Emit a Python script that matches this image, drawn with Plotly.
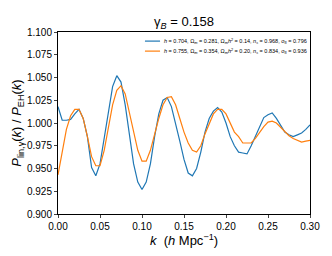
import plotly.graph_objects as go

k = [round(0.005 * i, 3) for i in range(61)]

blue = [1.018, 1.003, 1.003, 1.004, 1.010, 1.015, 1.005, 0.985, 0.951, 0.942,
        0.955, 0.985, 1.015, 1.040, 1.052, 1.045, 1.020, 0.985, 0.955, 0.935,
        0.927, 0.935, 0.955, 0.985, 1.010, 1.025, 1.028, 1.018, 1.000, 0.980,
        0.960, 0.945, 0.942, 0.950, 0.968, 0.990, 1.005, 1.013, 1.017, 1.012,
        1.000, 0.985, 0.975, 0.968, 0.967, 0.966, 0.975, 0.985, 0.995, 1.006,
        1.009, 1.011, 1.005, 0.998, 0.990, 0.987, 0.985, 0.987, 0.989, 0.993,
        0.998]

orange = [0.943, 0.970, 0.993, 1.008, 1.015, 1.015, 1.005, 0.985, 0.963, 0.953,
          0.953, 0.970, 0.995, 1.020, 1.036, 1.041, 1.032, 1.012, 0.990, 0.970,
          0.958, 0.958, 0.970, 0.988, 1.005, 1.020, 1.028, 1.029, 1.020, 1.005,
          0.990, 0.978, 0.970, 0.968, 0.975, 0.988, 1.000, 1.010, 1.015, 1.015,
          1.010, 1.000, 0.990, 0.985, 0.978, 0.978, 0.978, 0.983, 0.990, 0.996,
          1.001, 1.002, 1.000, 0.995, 0.990, 0.986, 0.983, 0.981, 0.979, 0.980,
          0.981]

names = [
    "<i>h</i> = 0.704, Ω<sub><i>m</i></sub> = 0.281, Ω<sub><i>m</i></sub><i>h</i><sup>2</sup> = 0.14, <i>n</i><sub><i>s</i></sub> = 0.968, σ<sub>8</sub> = 0.796",
    "<i>h</i> = 0.755, Ω<sub><i>m</i></sub> = 0.354, Ω<sub><i>m</i></sub><i>h</i><sup>2</sup> = 0.20, <i>n</i><sub><i>s</i></sub> = 0.834, σ<sub>8</sub> = 0.936",
]
colors = ["#1f77b4", "#ff7f0e"]

# legend layout (paper coordinates, styling only)
leg_rows = [0.95, 0.895]
leg_x0, leg_x1, leg_tx = 0.345, 0.405, 0.412

fig = go.Figure()
for ys, nm, c in zip([blue, orange], names, colors):
    fig.add_trace(go.Scatter(x=k, y=ys, mode="lines", name=nm,
                             line=dict(color=c, width=1.2), showlegend=False))

for nm, c, ry in zip(names, colors, leg_rows):
    fig.add_shape(type="line", xref="paper", yref="paper",
                  x0=leg_x0, x1=leg_x1, y0=ry, y1=ry,
                  line=dict(color=c, width=1.2))
    fig.add_annotation(xref="paper", yref="paper", x=leg_tx, y=ry,
                       xanchor="left", yanchor="middle", text=nm,
                       showarrow=False, font=dict(size=5.5))

font = "Liberation Sans, Arial, sans-serif"
fig.update_layout(
    width=324, height=248,
    margin=dict(l=50, r=22, t=24, b=42, autoexpand=False),
    paper_bgcolor="white", plot_bgcolor="white",
    font=dict(family=font, color="black", size=10),
    title=dict(text="γ<sub><i>B</i></sub> = 0.158", xref="paper", x=0.5, xanchor="center",
               y=0.944, yanchor="middle", font=dict(size=13)),
    showlegend=False,
    xaxis=dict(range=[0, 0.30], tickvals=[0, 0.05, 0.10, 0.15, 0.20, 0.25, 0.30],
               tickformat=".2f", ticks="outside", ticklen=3, showgrid=False,
               automargin=False,
               zeroline=False, showline=True, linecolor="black", linewidth=1, mirror=True,
               title=dict(text="<i>k</i>  (<i>h</i> Mpc<sup>−1</sup>)", standoff=4,
                          font=dict(size=13))),
    yaxis=dict(range=[0.9, 1.1],
               tickvals=[0.9, 0.925, 0.95, 0.975, 1.0, 1.025, 1.05, 1.075, 1.1],
               tickformat=".3f", ticks="outside", ticklen=3, showgrid=False,
               automargin=False,
               zeroline=False, showline=True, linecolor="black", linewidth=1, mirror=True,
               title=dict(text="<i>P</i><sub>lin,γ</sub>(<i>k</i>) / <i>P</i><sub>EH</sub>(<i>k</i>)",
                          standoff=2, font=dict(size=13))),
)

fig.write_html("out.html")
